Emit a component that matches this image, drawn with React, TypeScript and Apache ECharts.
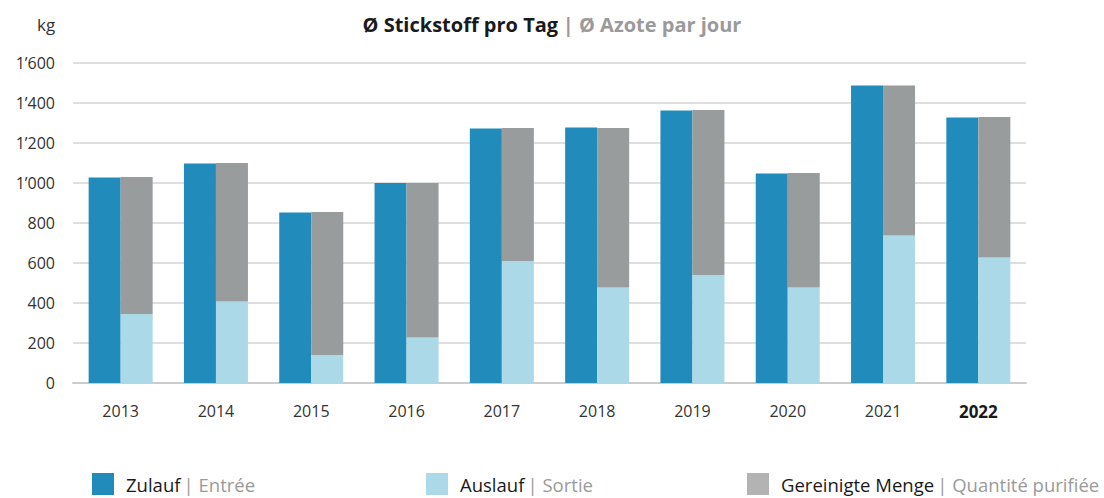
import React, { useEffect, useRef } from "react";
import * as echarts from "echarts";

const years = ["2013", "2014", "2015", "2016", "2017", "2018", "2019", "2020", "2021", "2022"];
const zulauf = [1028, 1098, 853, 1000, 1273, 1277, 1363, 1048, 1487, 1327];
const auslauf = [345, 407, 140, 227, 610, 477, 540, 477, 737, 627];
const gereinigt = [685, 693, 715, 773, 665, 798, 825, 573, 750, 703];
const yTicks = [0, 200, 400, 600, 800, 1000, 1200, 1400, 1600];

const FONT = "'Open Sans', 'Noto Sans', sans-serif";
const C_DARK = "#218bbb";
const C_LIGHT = "#acd9e8";
const C_GRAY = "#989c9d";

const fmt = (v: number) => {
  const s = String(v);
  return s.length > 3 ? s.slice(0, s.length - 3) + "\u2019" + s.slice(s.length - 3) : s;
};

const legendRich = {
  a: { fontSize: 18.5, color: "#1a1a1a", fontFamily: FONT },
  b: { fontSize: 18.5, color: "#9a9a9a", fontFamily: FONT },
};

export default function App() {
  const ref = useRef<HTMLDivElement>(null);
  useEffect(() => {
    document.body.style.margin = "0";
    const chart = echarts.init(ref.current!, null, { renderer: "svg" });
    const mkLegend = (name: string, fr: string, left: number, color: string) => ({
      left,
      top: 473,
      padding: 0,
      itemWidth: 22,
      itemHeight: 22,
      icon: "rect",
      data: [{ name, itemStyle: { color } }],
      formatter: (n: string) => `{a|${n}} {b|| ${fr}}`,
      textStyle: { rich: legendRich, padding: [0, 0, 0, 7] },
      selectedMode: false,
    });
    chart.setOption({
      animation: false,
      textStyle: { fontFamily: FONT },
      title: {
        text: "{a|Ø Stickstoff pro Tag} {b|| Ø Azote par jour}",
        left: 547,
        textAlign: "center",
        top: 9,
        textStyle: {
          rich: {
            a: { fontSize: 20, fontWeight: "bold", color: "#1a1a1a", fontFamily: FONT },
            b: { fontSize: 20, fontWeight: "bold", color: "#9a9a9a", fontFamily: FONT },
          },
        },
      },
      graphic: [
        {
          type: "text",
          left: 37,
          top: 16,
          style: { text: "kg", fontSize: 17, fill: "#333", fontFamily: FONT },
        },
      ],
      legend: [
        mkLegend("Zulauf", "Entrée", 92, C_DARK),
        mkLegend("Auslauf", "Sortie", 426, C_LIGHT),
        mkLegend("Gereinigte Menge", "Quantité purifiée", 747, "#b3b3b3"),
      ],
      grid: { left: 73, right: 78, top: 63, bottom: 115 },
      xAxis: {
        type: "category",
        data: years,
        axisTick: { show: false },
        axisLine: { lineStyle: { color: "#cccccc", width: 2 } },
        axisLabel: {
          margin: 20,
          fontSize: 16,
          color: "#333",
          fontFamily: FONT,
          formatter: (v: string) => (v === "2022" ? `{b|${v}}` : v),
          rich: { b: { fontSize: 17, fontWeight: "bold", color: "#1a1a1a", fontFamily: FONT } },
        },
      },
      yAxis: {
        type: "value",
        min: yTicks[0],
        max: yTicks[yTicks.length - 1],
        interval: 200,
        axisLine: { show: false },
        axisTick: { show: false },
        splitLine: { lineStyle: { color: "#d4d4d4", width: 1.5 } },
        axisLabel: { margin: 18, fontSize: 16, color: "#333", fontFamily: FONT, formatter: fmt },
      },
      series: [
        {
          name: "Zulauf",
          type: "bar",
          data: zulauf,
          barWidth: 32,
          barGap: "0%",
          itemStyle: { color: C_DARK },
        },
        {
          name: "Auslauf",
          type: "bar",
          stack: "out",
          data: auslauf,
          barWidth: 32,
          barGap: "0%",
          itemStyle: { color: C_LIGHT },
        },
        {
          name: "Gereinigte Menge",
          type: "bar",
          stack: "out",
          data: gereinigt,
          barWidth: 32,
          barGap: "0%",
          itemStyle: { color: C_GRAY },
        },
      ],
    });
    return () => chart.dispose();
  }, []);
  return <div ref={ref} style={{ width: 1104, height: 498 }} />;
}
